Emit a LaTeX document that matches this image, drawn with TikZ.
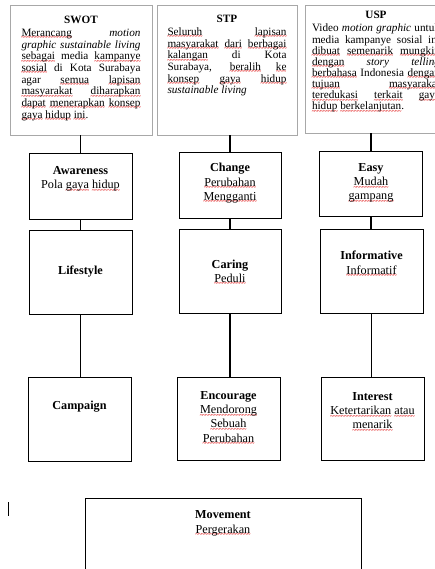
\documentclass[tikz,border=0pt]{standalone}
\usepackage{fontspec}
\setmainfont{Liberation Serif}
\usepackage{tikz}
\usetikzlibrary{positioning}
\definecolor{spellred}{HTML}{E01818}
\definecolor{boxgray}{HTML}{A8A8A8}
\newsavebox\sqbox
\newcommand\sq[1]{\sbox\sqbox{#1}\rlap{\raisebox{-3.5pt}[0pt][0pt]{\color{spellred}\hbox to\wd\sqbox{\xleaders\hbox{\fontsize{6.5}{6.5}\selectfont\bfseries\kern-0.3pt\char"7E\kern-0.3pt}\hfill}}}\usebox\sqbox}
\setlength{\parindent}{0pt}
\tolerance=10000
\hbadness=10000

\begin{document}
\begin{tikzpicture}[x=1pt,y=-1pt,
	topbox/.style={draw=boxgray,line width=0.9pt,inner sep=0pt,minimum height=130pt},
	box/.style={draw,line width=0.9pt,inner sep=0pt,minimum width=103pt},
	toptext/.style={inner sep=0pt,align=justify,font=\fontsize{11.2}{11.67}\selectfont},
	boxtext/.style={inner sep=0pt,align=center,font=\fontsize{12.2}{14.3}\selectfont},
	link/.style={line width=1.3pt}]
	\useasboundingbox (0,0) rectangle (434,569);

	\node (swot) at (81,70) [topbox,minimum width=142pt] {};
	\node (stp) at (227,70) [topbox,minimum width=140pt] {};
	\node (usp) at (375.5,69) [topbox,minimum width=141pt,minimum height=128pt] {};

	\node (awareness) at (80.5,186) [box,minimum height=66pt] {};
	\node (lifestyle) at (80.5,272) [box,minimum height=84pt] {};
	\node (campaign) at (79.5,419) [box,minimum height=84pt] {};
	\node (change) at (230,185) [box,minimum width=102pt,minimum height=66pt] {};
	\node (caring) at (230,271) [box,minimum width=102pt,minimum height=84pt] {};
	\node (encourage) at (228.5,418.5) [box,minimum height=83pt] {};
	\node (easy) at (371,183.5) [box,minimum height=65pt] {};
	\node (informative) at (371.5,271) [box,minimum height=84pt] {};
	\node (interest) at (372.5,418.5) [box,minimum height=83pt] {};
	\node (movement) at (223,549) [box,minimum width=276pt,minimum height=102pt] {};

	\node (swottext) [toptext,text width=119pt,below=11pt of swot.north] {%
		\centerline{\bfseries SWOT}\vspace{1.6pt}
		\sq{Merancang} \textit{motion}\linebreak
		\textit{graphic sustainable living}\linebreak
		\sq{sebagai} media \sq{kampanye}\linebreak
		\sq{sosial} di Kota Surabaya\linebreak
		agar \sq{semua} \sq{lapisan}\linebreak
		\sq{masyarakat} \sq{diharapkan}\linebreak
		\sq{dapat} \sq{menerapkan} \sq{konsep}\linebreak
		\sq{gaya} \sq{hidup} \sq{ini}.};
	\node (stptext) [toptext,text width=119pt,below=10pt of stp.north] {%
		\centerline{\bfseries STP}\vspace{1.6pt}
		\sq{Seluruh} \sq{lapisan}\linebreak
		\sq{masyarakat} \sq{dari} \sq{berbagai}\linebreak
		\sq{kalangan} di Kota\linebreak
		Surabaya, \sq{beralih} \sq{ke}\linebreak
		\sq{konsep} \sq{gaya} \sq{hidup}\linebreak
		\textit{sustainable living}};
	\node (usptext) [toptext,text width=128pt,below=6.5pt of usp.north,xshift=0.5pt,
		font=\fontsize{11.2}{11.1}\selectfont] {%
		\centerline{\bfseries USP}\vspace{2.2pt}
		Video \textit{motion graphic} untuk\linebreak
		media kampanye sosial ini\linebreak
		\sq{dibuat} \sq{semenarik} \sq{mungkin}\linebreak
		\sq{dengan} \textit{story telling}\linebreak
		\sq{berbahasa} Indonesia \sq{dengan}\linebreak
		\sq{tujuan} \sq{masyarakat}\linebreak
		\sq{teredukasi} \sq{terkait} \sq{gaya}\linebreak
		\sq{hidup} \sq{berkelanjutan}.};

	\node (awarenesstext) [boxtext,below=13.5pt of awareness.north] {\textbf{Awareness}\\Pola \sq{gaya} \sq{hidup}};
	\node (lifestyletext) at (lifestyle) [boxtext] {\textbf{Lifestyle}};
	\node (campaigntext) [boxtext,below=24pt of campaign.north] {\textbf{Campaign}};
	\node (changetext) [boxtext,below=11.5pt of change.north] {\textbf{Change}\\\sq{Perubahan}\\\sq{Mengganti}};
	\node (caringtext) at (caring) [boxtext] {\textbf{Caring}\\\sq{Peduli}};
	\node (encouragetext) [boxtext,below=14.5pt of encourage.north] {\textbf{Encourage}\\\sq{Mendorong}\\\sq{Sebuah}\\\sq{Perubahan}};
	\node (easytext) [boxtext,below=12.5pt of easy.north] {\textbf{Easy}\\\sq{Mudah}\\\sq{gampang}};
	\node (informativetext) [boxtext,below=22.5pt of informative.north] {\textbf{Informative}\\\sq{Informatif}};
	\node (interesttext) [boxtext,below=15.5pt of interest.north] {\textbf{Interest}\\\sq{Ketertarikan} \sq{atau}\\\sq{menarik}};
	\node (movementtext) [boxtext,below=13pt of movement.north] {\textbf{Movement}\\\sq{Pergerakan}};

	\draw[link] (swot.south -| awareness.north) -- (awareness.north);
	\draw[link] (awareness.south) -- (lifestyle.north);
	\draw[link] (lifestyle.south) -- (lifestyle.south |- campaign.north);
	\draw[link] (stp.south -| change.north) -- (change.north);
	\draw[link] (change.south) -- (caring.north);
	\draw[link] (caring.south) -- (caring.south |- encourage.north);
	\draw[link] (usp.south -| easy.north) -- (easy.north);
	\draw[link] (easy.south) -- (easy.south |- informative.north);
	\draw[link] (informative.south) -- (informative.south |- interest.north);

	\draw[line width=0.7pt] (8.3,502) -- (8.3,516);
\end{tikzpicture}
\end{document}
